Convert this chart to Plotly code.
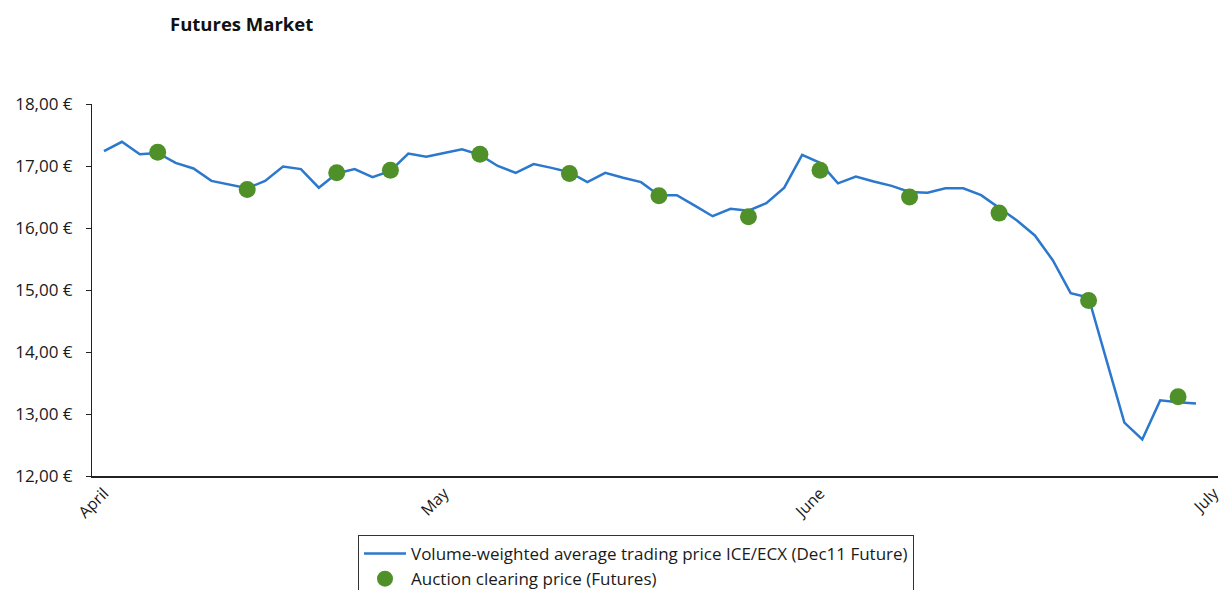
import plotly.graph_objects as go

# Trading days on ICE/ECX, April - June 2011
trade_dates = [
    "2011-04-01", "2011-04-04", "2011-04-05", "2011-04-06", "2011-04-07", "2011-04-08",
    "2011-04-11", "2011-04-12", "2011-04-13", "2011-04-14", "2011-04-15",
    "2011-04-18", "2011-04-19", "2011-04-20", "2011-04-21",
    "2011-04-26", "2011-04-27", "2011-04-28", "2011-04-29",
    "2011-05-02", "2011-05-03", "2011-05-04", "2011-05-05", "2011-05-06",
    "2011-05-09", "2011-05-10", "2011-05-11", "2011-05-12", "2011-05-13",
    "2011-05-16", "2011-05-17", "2011-05-18", "2011-05-19", "2011-05-20",
    "2011-05-23", "2011-05-24", "2011-05-25", "2011-05-26", "2011-05-27",
    "2011-05-31",
    "2011-06-01", "2011-06-02", "2011-06-03",
    "2011-06-06", "2011-06-07", "2011-06-08", "2011-06-09", "2011-06-10",
    "2011-06-13", "2011-06-14", "2011-06-15", "2011-06-16", "2011-06-17",
    "2011-06-20", "2011-06-21", "2011-06-22", "2011-06-23", "2011-06-24",
    "2011-06-27", "2011-06-28", "2011-06-29", "2011-06-30",
]

# Volume-weighted average trading price, Dec11 future (EUR)
vwap_prices = [
    17.24, 17.39, 17.19, 17.21, 17.05, 16.96, 16.76, 16.70, 16.64, 16.76,
    16.99, 16.95, 16.65, 16.88, 16.95, 16.82, 16.92, 17.20, 17.15, 17.21,
    17.27, 17.18, 17.00, 16.89, 17.03, 16.97, 16.90, 16.74, 16.89, 16.81,
    16.74, 16.53, 16.53, 16.36, 16.19, 16.31, 16.28, 16.40, 16.65, 17.18,
    17.05, 16.72, 16.83, 16.75, 16.68, 16.58, 16.57, 16.64, 16.64, 16.53,
    16.32, 16.12, 15.88, 15.48, 14.95, 14.88, 13.87, 12.86, 12.59, 13.22,
    13.19, 13.17,
]

# Weekly auctions (Wednesdays) and their clearing prices (EUR)
auction_dates = [
    "2011-04-06", "2011-04-13", "2011-04-20", "2011-04-27", "2011-05-04",
    "2011-05-11", "2011-05-18", "2011-05-25", "2011-06-01", "2011-06-08",
    "2011-06-15", "2011-06-22", "2011-06-29",
]
auction_prices = [
    17.22, 16.62, 16.89, 16.93, 17.19, 16.88, 16.52, 16.18, 16.93, 16.50,
    16.24, 14.83, 13.28,
]

month_labels = ["April", "May", "June", "July"]
month_starts = ["2011-04-01", "2011-05-02", "2011-06-01", None]
price_ticks = [12, 13, 14, 15, 16, 17, 18]
price_tick_text = [f"{v},00 €" for v in price_ticks]

# Category positions: one slot per trading day
x_idx = list(range(len(trade_dates)))
auction_idx = [trade_dates.index(d) for d in auction_dates]
month_pos = [trade_dates.index(d) if d else len(trade_dates) for d in month_starts]

LINE_BLUE = "#2B78CC"
DOT_GREEN = "#4F9128"
FONT = "Open Sans"
TEXT = "#1a1a1a"

fig = go.Figure()
fig.add_trace(go.Scatter(
    x=x_idx, y=vwap_prices, mode="lines",
    name="Volume-weighted average trading price ICE/ECX (Dec11 Future)",
    line=dict(color=LINE_BLUE, width=2.5),
    legendgroup="vwap",
))
fig.add_trace(go.Scatter(
    x=auction_idx, y=auction_prices, mode="markers",
    name="Auction clearing price (Futures)",
    marker=dict(color=DOT_GREEN, size=17, line=dict(width=0)),
    legendgroup="auction",
))

fig.update_layout(
    width=1224, height=590,
    margin=dict(l=92, r=6, t=104, b=114, autoexpand=False),
    paper_bgcolor="white", plot_bgcolor="white",
    font=dict(family=FONT, size=16, color=TEXT),
    title=dict(
        text="<b>Futures Market</b>",
        font=dict(family=FONT, size=18.5, color="#111111"),
        x=(170 - 92) / 1126, xref="paper", xanchor="left",
        y=1 - 25 / 590, yref="container", yanchor="middle",
    ),
    showlegend=True,
    legend=dict(
        x=(358 - 92) / 1126, xanchor="left",
        y=(476 - 535) / 372, yanchor="top",
        bordercolor="#333333", borderwidth=1, bgcolor="white",
        font=dict(family=FONT, size=17, color=TEXT),
        tracegroupgap=0, traceorder="grouped", itemwidth=42,
    ),
    xaxis=dict(
        range=[-0.67, 62.23], automargin=False,
        tickmode="array", tickvals=month_pos, ticktext=month_labels,
        tickangle=-45, showgrid=False, zeroline=False,
        showline=True, linecolor="#222222", linewidth=1.5,
        ticks="", tickfont=dict(size=16),
    ),
    yaxis=dict(
        range=[12, 18], automargin=False,
        tickmode="array", tickvals=price_ticks, ticktext=price_tick_text,
        showgrid=False, zeroline=False,
        showline=True, linecolor="#222222", linewidth=1,
        ticks="outside", ticklen=5, tickcolor="#222222",
        tickfont=dict(size=17), ticklabelstandoff=10,
    ),
)

fig.write_html("out.html")
